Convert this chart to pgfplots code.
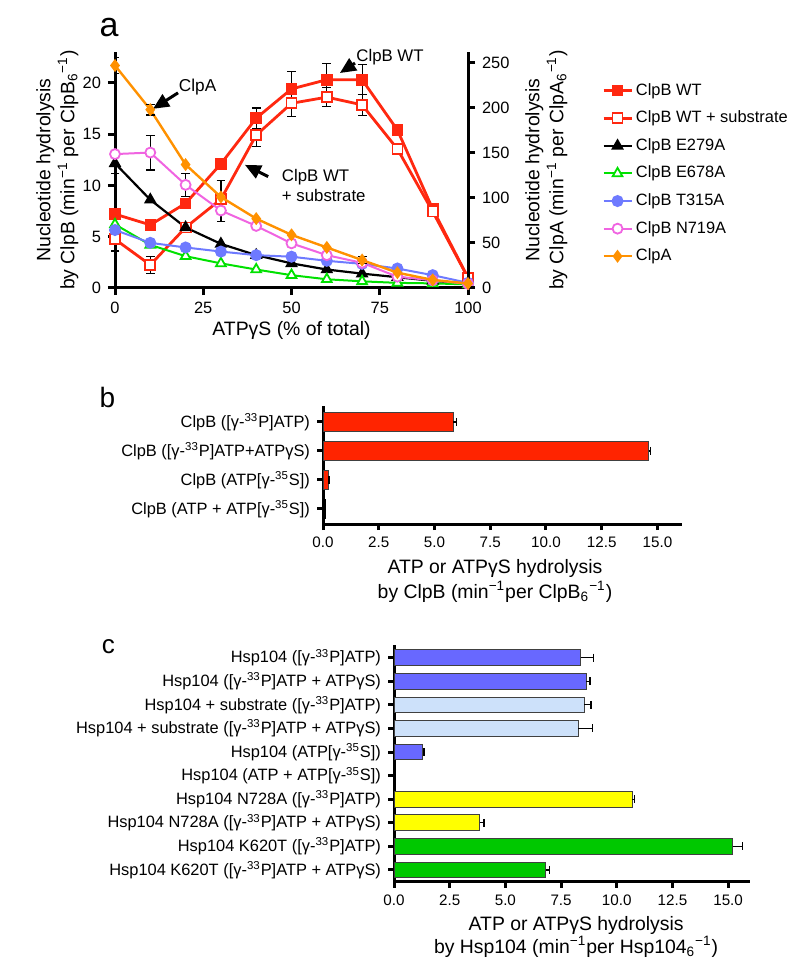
\documentclass[border=0pt]{standalone}
\usepackage{pgfplots}
\pgfplotsset{compat=1.18}
\usepackage{fontspec}
\setmainfont{Liberation Sans}
\usetikzlibrary{arrows.meta}

\definecolor{cbred}{RGB}{255,40,16}
\definecolor{barred}{RGB}{255,36,0}
\definecolor{cbgreen}{RGB}{0,225,0}
\definecolor{cbblue}{RGB}{110,122,255}
\definecolor{cbpink}{RGB}{240,100,225}
\definecolor{cborange}{RGB}{255,145,0}
\definecolor{hblue}{RGB}{104,104,255}
\definecolor{hlight}{RGB}{205,225,250}
\definecolor{hyellow}{RGB}{255,255,0}
\definecolor{hgreen}{RGB}{0,200,0}

\pgfplotsset{
  figaxis/.style={
    scale only axis,
    axis line style={line width=1.5pt, black},
    tick style={line width=1.5pt, black},
    tick align=outside,
    major tick length=3.5pt,
    /pgf/number format/assume math mode=true,
    ticklabel style={font=\fontsize{8.2}{9}\selectfont},
    label style={font=\fontsize{9.7}{12}\selectfont, align=center},
  },
  errs/.style={draw=none, mark=none, forget plot,
    error bars/y dir=both, error bars/y explicit,
    error bars/error bar style={draw=black, line width=0.6pt},
    error bars/error mark options={rotate=90, draw=black, line width=0.6pt, mark size=2.2pt}},
  hbar/.style={draw=black!75, line width=0.5pt, bar shift=0pt,
    error bars/x dir=plus, error bars/x explicit,
    error bars/error bar style={black, line width=0.6pt},
    error bars/error mark options={rotate=90, black, line width=0.6pt, mark size=2pt}},
}

\begin{document}
\begin{tikzpicture}
\path[use as bounding box] (0,0) rectangle (400pt,-489pt);

% panel a, ClpB series on the left axis
\begin{axis}[figaxis, at={(57.5pt,-144pt)}, anchor=south west,
  width=176.5pt, height=118pt,
  axis x line*=bottom, axis y line*=left,
  xmin=0, xmax=100, ymin=0, ymax=23,
  xtick={0,25,50,75,100}, ytick={0,5,10,15,20},
  clip=false,
  xlabel={ATPγS (\% of total)},
  xlabel style={at={(axis description cs:0.5,-0.182)}, anchor=center},
  ylabel={Nucleotide hydrolysis\\by ClpB (min\textsuperscript{−1} per ClpB\textsubscript{6}\textsuperscript{−1})},
  ylabel style={at={(axis description cs:-0.163,0.5)}, anchor=center},
  legend style={at={(axis description cs:1.38,0.868)}, anchor=north west,
    draw=none, fill=none, inner sep=0pt, outer sep=0pt, row sep=6.3pt,
    font=\fontsize{8.2}{9}\selectfont,
    nodes={inner sep=0pt, text height=6pt, text depth=1.5pt},
    /tikz/every odd column/.append style={column sep=1.5pt}},
  legend cell align=left,
  legend image code/.code={\draw[mark repeat=2,mark phase=2] plot coordinates {(0pt,0pt)(7pt,0pt)(14pt,0pt)};},
]
\addplot[cbred, line width=1.4pt, mark=square*, mark size=2.5pt, mark options={solid, fill=cbred, line width=0.8pt}]
  coordinates {(0,7.2)(10,6.15)(20,8.25)(30,12.1)(40,16.55)(50,19.4)(60,20.3)(70,20.3)(80,15.4)(90,7.7)(100,1.0)};
\addlegendentry{ClpB WT}
\addplot[cbred, line width=1.4pt, mark=square*, mark size=2.5pt, mark options={solid, fill=white, line width=0.9pt}]
  coordinates {(0,4.75)(10,2.25)(20,5.9)(30,8.65)(40,14.9)(50,18.0)(60,18.6)(70,17.85)(80,13.55)(90,7.45)(100,1.0)};
\addlegendentry{ClpB WT + substrate}
\addplot[black, line width=1.1pt, mark=triangle*, mark size=2.6pt, mark options={solid, fill=black}]
  coordinates {(0,12.15)(10,8.6)(20,5.9)(30,4.3)(40,3.2)(50,2.4)(60,1.8)(70,1.4)(80,1.05)(90,0.7)(100,0.4)};
\addlegendentry{ClpB E279A}
\addplot[cbgreen, line width=1pt, mark=triangle*, mark size=2.8pt, mark options={solid, fill=white, line width=0.9pt}]
  coordinates {(0,6.2)(10,4.2)(20,3.1)(30,2.4)(40,1.8)(50,1.25)(60,0.85)(70,0.65)(80,0.5)(90,0.45)(100,0.35)};
\addlegendentry{ClpB E678A}
\addplot[cbblue, line width=1pt, mark=*, mark size=2.5pt, mark options={solid, fill=cbblue}]
  coordinates {(0,5.65)(10,4.4)(20,3.95)(30,3.55)(40,3.2)(50,3.05)(60,2.65)(70,2.35)(80,1.9)(90,1.25)(100,0.5)};
\addlegendentry{ClpB T315A}
\addplot[cbpink, line width=1pt, mark=*, mark size=2.5pt, mark options={solid, fill=white, line width=0.9pt}]
  coordinates {(0,13.05)(10,13.2)(20,10.05)(30,7.55)(40,6.05)(50,4.35)(60,3.2)(70,2.45)(80,1.1)(90,0.75)(100,0.4)};
\addlegendentry{ClpB N719A}
\addlegendimage{cborange, line width=1.2pt, mark=diamond*, mark size=2.3pt, mark options={solid, fill=cborange}}
\addlegendentry{ClpA}
\addplot[errs] coordinates {
  (0,12.15) +- (0,1.0) (0,4.75) +- (0,1.15)
  (10,13.2) +- (0,1.7) (10,2.25) +- (0,0.8)
  (20,10.05) +- (0,1.1) (30,8.5) +- (0,2.0)
  (40,16.55) +- (0,1.0) (40,14.9) +- (0,1.1)
  (50,19.4) +- (0,1.7) (50,18.0) +- (0,1.3)
  (60,20.3) +- (0,1.6) (60,18.6) +- (0,0.95)
  (70,20.3) +- (0,1.45) (70,17.85) +- (0,1.0)};
% annotations
\draw[line width=1.5pt, -{Triangle[length=8pt,width=7pt]}] (axis cs:17.85,19.02) -- (axis cs:10.76,17.46);
\node[font=\fontsize{8.6}{9}\selectfont] at (axis cs:23.4,19.56) {ClpA};
\draw[line width=1.5pt, -{Triangle[length=8pt,width=7pt]}] (axis cs:68.0,21.92) -- (axis cs:63.7,20.95);
\node[font=\fontsize{8.4}{9}\selectfont] at (axis cs:77.9,22.54) {ClpB WT};
\draw[line width=1.5pt, -{Triangle[length=8pt,width=7pt]}] (axis cs:43.4,10.86) -- (axis cs:36.8,12.0);
\node[font=\fontsize{8.4}{10}\selectfont, align=left, anchor=west] at (axis cs:45.3,9.95) {ClpB WT\\+ substrate};
\end{axis}

% panel a, ClpA on the right axis
\begin{axis}[figaxis, at={(57.5pt,-144pt)}, anchor=south west,
  width=176.5pt, height=118pt,
  axis x line=none, axis y line*=right,
  xmin=0, xmax=100, ymin=0, ymax=262,
  ytick={0,50,100,150,200,250},
  ylabel={Nucleotide hydrolysis\\by ClpA (min\textsuperscript{−1} per ClpA\textsubscript{6}\textsuperscript{−1})},
  ylabel style={at={(axis description cs:1.222,0.5)}, anchor=center, align=center, font=\fontsize{9.7}{12}\selectfont},
]
\addplot[cborange, line width=1.2pt, mark=diamond*, mark size=2.3pt, mark options={solid, fill=cborange}]
  coordinates {(0,247)(10,198)(20,137)(30,101)(40,77)(50,59)(60,45)(70,31)(80,17)(90,9)(100,5)};
\addplot[errs] coordinates {(0,247) +- (0,9) (10,198) +- (0,6) (70,31) +- (0,4)};
\end{axis}

% panel b
\begin{axis}[figaxis, at={(161.5pt,-262pt)}, anchor=south west,
  width=179.5pt, height=59pt,
  axis x line*=bottom, axis y line*=left,
  xmin=0, xmax=16.1, ymin=-0.52, ymax=3.55,
  xbar, bar width=0.67,
  major tick length=3pt,
  xtick={0,2.5,5,7.5,10,12.5,15}, ytick={0,1,2,3},
  xticklabel style={font=\fontsize{7.6}{9}\selectfont, /pgf/number format/.cd, fixed, fixed zerofill, precision=1},
  yticklabels={{ClpB (ATP + ATP[γ-\textsuperscript{35}S])},{ClpB (ATP[γ-\textsuperscript{35}S])},{ClpB ([γ-\textsuperscript{33}P]ATP+ATPγS)},{ClpB ([γ-\textsuperscript{33}P]ATP)}},
  xlabel={ATP or ATPγS hydrolysis\\by ClpB (min\textsuperscript{−1}per ClpB\textsubscript{6}\textsuperscript{−1})},
  xlabel style={font=\fontsize{9.7}{12.5}\selectfont, at={(axis description cs:0.479,-0.479)}, anchor=center},
]
\addplot[hbar, fill=barred] coordinates {(5.85,3) +- (0.12,0) (14.6,2) +- (0.1,0) (0.25,1) +- (0.02,0)};
\addplot[fill=black, draw=black, line width=0.5pt, bar shift=0pt] coordinates {(0.1,0)};
\end{axis}

% panel c
\begin{axis}[figaxis, at={(197pt,-440.85pt)}, anchor=south west,
  width=178.2pt, height=118.35pt,
  axis x line*=bottom, axis y line*=left,
  xmin=0, xmax=16.0, ymin=-0.5, ymax=9.54,
  xbar, bar width=0.665,
  major tick length=3pt,
  xtick={0,2.5,5,7.5,10,12.5,15}, ytick={0,...,9},
  xticklabel style={font=\fontsize{7.6}{9}\selectfont, /pgf/number format/.cd, fixed, fixed zerofill, precision=1},
  yticklabels={
    {Hsp104 K620T ([γ-\textsuperscript{33}P]ATP + ATPγS)},
    {Hsp104 K620T ([γ-\textsuperscript{33}P]ATP)},
    {Hsp104 N728A ([γ-\textsuperscript{33}P]ATP + ATPγS)},
    {Hsp104 N728A ([γ-\textsuperscript{33}P]ATP)},
    {Hsp104 (ATP + ATP[γ-\textsuperscript{35}S])},
    {Hsp104 (ATP[γ-\textsuperscript{35}S])},
    {Hsp104 + substrate ([γ-\textsuperscript{33}P]ATP + ATPγS)},
    {Hsp104 + substrate ([γ-\textsuperscript{33}P]ATP)},
    {Hsp104 ([γ-\textsuperscript{33}P]ATP + ATPγS)},
    {Hsp104 ([γ-\textsuperscript{33}P]ATP)}},
  xlabel={ATP or ATPγS hydrolysis\\by Hsp104 (min\textsuperscript{−1}per Hsp104\textsubscript{6}\textsuperscript{−1})},
  xlabel style={font=\fontsize{9.7}{11.5}\selectfont, at={(axis description cs:0.511,-0.2315)}, anchor=center},
]
\addplot[hbar, fill=hblue] coordinates {(8.39,9) +- (0.58,0) (8.62,8) +- (0.18,0) (1.3,5) +- (0.05,0)};
\addplot[hbar, fill=hlight] coordinates {(8.54,7) +- (0.3,0) (8.27,6) +- (0.63,0)};
\addplot[hbar, fill=hyellow] coordinates {(10.69,3) +- (0.1,0) (3.86,2) +- (0.18,0)};
\addplot[hbar, fill=hgreen] coordinates {(15.2,1) +- (0.45,0) (6.82,0) +- (0.17,0)};
\end{axis}

% panel letters
\node[font=\fontsize{17}{17}\selectfont] at (54.5pt,-14pt) {a};
\node[font=\fontsize{14}{14}\selectfont] at (53.75pt,-198.5pt) {b};
\node[font=\fontsize{13}{13}\selectfont] at (54.2pt,-323.5pt) {c};
\end{tikzpicture}
\end{document}
